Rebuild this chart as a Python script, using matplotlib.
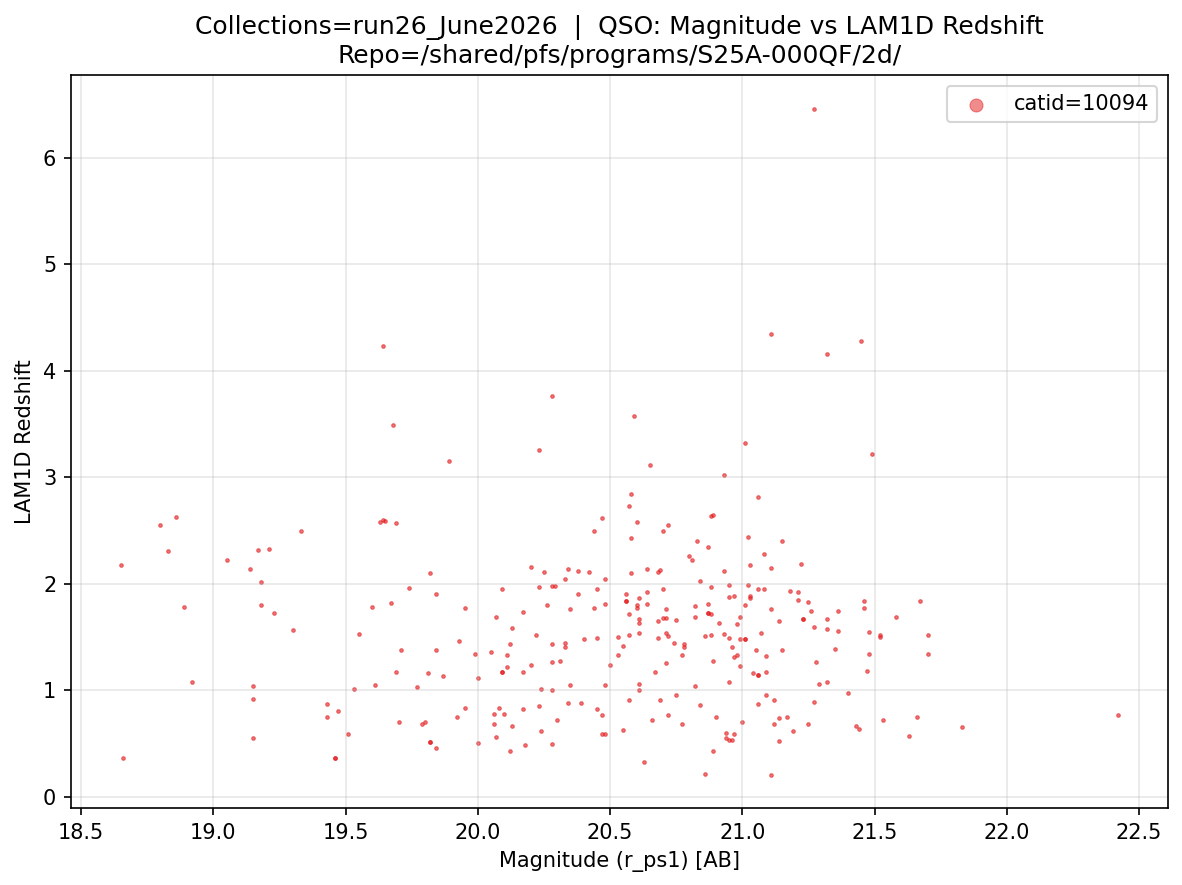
import matplotlib
matplotlib.use('Agg')
import matplotlib.pyplot as plt

# title bits
COLLECTION = 'run26_June2026'
REPO = '/shared/pfs/programs/S25A-000QF/2d/'
CATID = 10094

# magnitude (r_ps1) and LAM1D redshift
mag = [
    18.86, 18.80, 18.83, 18.65, 18.89, 18.92, 18.66, 19.33, 19.17, 19.21,
    19.05, 19.14, 19.18, 19.18, 19.23, 19.30, 19.15, 19.15, 19.15, 19.43,
    19.43,
    19.82, 19.74, 19.84, 19.67, 19.60, 19.95, 19.55, 19.71, 19.84, 19.93,
    19.99, 19.69, 19.81, 19.87, 20.00, 19.61, 19.77, 19.53, 19.47, 19.95,
    19.92, 19.70, 19.79, 19.80, 19.51, 19.82, 19.82, 19.84, 20.00, 19.46,
    19.46,
    20.20, 20.25, 20.34, 20.38, 20.42, 20.33, 20.09, 20.23, 20.28, 20.29,
    20.38, 20.45, 20.26, 20.17, 20.35, 20.44, 20.07, 20.13, 20.22, 20.12,
    20.28, 20.33, 20.33, 20.40, 20.45, 20.05, 20.11, 20.11, 20.20, 20.28,
    20.31, 20.09, 20.09, 20.17, 20.24, 20.28, 20.35, 20.08, 20.06, 20.10,
    20.17, 20.23, 20.34, 20.39, 20.45, 20.06, 20.13, 20.30, 20.24, 20.07,
    20.18, 20.28, 20.12,
    20.58, 20.57, 20.47, 20.44, 20.60, 20.72, 20.70, 20.88, 20.89, 20.58,
    20.83, 20.87, 20.80, 20.81, 20.48, 20.58, 20.64, 20.68, 20.69, 20.84,
    20.88, 20.56, 20.64, 20.70, 20.56, 20.56, 20.61, 20.64, 20.60, 20.60,
    20.48, 20.57, 20.61, 20.61, 20.71, 20.70, 20.71, 20.68, 20.75, 20.82,
    20.82, 20.87, 20.87, 20.87, 20.88, 20.91, 20.53, 20.57, 20.61, 20.55,
    20.53, 20.50, 20.68, 20.71, 20.72, 20.74, 20.78, 20.78, 20.77, 20.86,
    20.88, 20.89, 20.71, 20.67, 20.48, 20.61, 20.61, 20.82, 20.57, 20.69,
    20.75, 20.84, 20.90, 20.47, 20.47, 20.48, 20.55, 20.66, 20.72, 20.77,
    20.89, 20.63, 20.86,
    21.06, 21.02, 21.15, 21.08, 21.03, 21.11, 21.22, 20.93, 20.95, 21.02,
    20.95, 20.97, 21.03, 21.03, 21.06, 21.08, 21.18, 21.21, 21.21, 21.25,
    21.26, 21.36, 21.01, 20.99, 20.98, 21.11, 21.14, 21.23, 21.23, 21.27,
    21.32, 21.32, 21.36, 20.93, 20.95, 20.96, 20.99, 21.01, 21.01, 21.07,
    20.97, 20.98, 20.99, 21.05, 21.09, 21.15, 21.28, 21.35, 21.04, 21.06,
    21.06, 21.09, 20.95, 21.29, 21.32, 21.09, 21.12, 21.06, 21.27, 21.00,
    21.12, 21.14, 21.17, 21.25, 21.19, 20.94, 20.97, 20.94, 20.95, 20.96,
    21.14, 21.11,
    21.46, 21.46, 21.67, 21.58, 21.48, 21.52, 21.52, 21.70, 21.48, 21.70,
    21.47, 21.40, 21.53, 21.43, 21.44, 21.66, 21.63, 21.83, 22.42,
    19.64, 19.68, 19.89, 20.28, 20.23, 19.63, 19.65, 19.64, 19.69,
    21.27, 21.11, 21.45, 21.32, 20.59, 20.65, 20.93, 21.01, 21.49,
]
redshift = [
    2.63, 2.55, 2.31, 2.18, 1.78, 1.08, 0.37, 2.50, 2.32, 2.33,
    2.22, 2.14, 2.02, 1.80, 1.73, 1.57, 1.04, 0.92, 0.55, 0.87,
    0.75,
    2.10, 1.96, 1.91, 1.82, 1.78, 1.77, 1.53, 1.38, 1.38, 1.46,
    1.34, 1.17, 1.16, 1.14, 1.12, 1.05, 1.03, 1.01, 0.81, 0.84,
    0.75, 0.70, 0.69, 0.70, 0.59, 0.52, 0.52, 0.46, 0.51, 0.37,
    0.37,
    2.16, 2.11, 2.14, 2.12, 2.11, 2.05, 1.95, 1.97, 1.98, 1.98,
    1.91, 1.95, 1.80, 1.74, 1.76, 1.77, 1.69, 1.59, 1.52, 1.44,
    1.44, 1.45, 1.41, 1.48, 1.49, 1.36, 1.33, 1.22, 1.24, 1.27,
    1.28, 1.17, 1.17, 1.17, 1.01, 1.00, 1.05, 0.84, 0.78, 0.78,
    0.83, 0.85, 0.88, 0.88, 0.83, 0.69, 0.67, 0.72, 0.62, 0.56,
    0.49, 0.50, 0.43,
    2.84, 2.73, 2.62, 2.50, 2.58, 2.55, 2.50, 2.64, 2.65, 2.43,
    2.40, 2.35, 2.26, 2.22, 2.05, 2.10, 2.14, 2.11, 2.13, 2.03,
    1.97, 1.91, 1.92, 1.95, 1.84, 1.84, 1.87, 1.81, 1.80, 1.77,
    1.81, 1.72, 1.67, 1.63, 1.76, 1.68, 1.68, 1.65, 1.66, 1.79,
    1.69, 1.81, 1.73, 1.73, 1.72, 1.63, 1.50, 1.52, 1.54, 1.42,
    1.33, 1.24, 1.49, 1.54, 1.51, 1.45, 1.44, 1.41, 1.33, 1.51,
    1.52, 1.28, 1.26, 1.17, 1.05, 1.06, 1.00, 1.04, 0.91, 0.91,
    0.96, 0.86, 0.75, 0.77, 0.59, 0.59, 0.63, 0.72, 0.77, 0.69,
    0.43, 0.33, 0.22,
    2.82, 2.44, 2.40, 2.28, 2.18, 2.15, 2.19, 2.12, 1.99, 1.99,
    1.88, 1.89, 1.89, 1.87, 1.95, 1.95, 1.93, 1.92, 1.85, 1.83,
    1.75, 1.75, 1.80, 1.69, 1.62, 1.76, 1.65, 1.67, 1.67, 1.60,
    1.67, 1.58, 1.56, 1.53, 1.49, 1.41, 1.48, 1.48, 1.48, 1.54,
    1.31, 1.33, 1.23, 1.38, 1.32, 1.38, 1.27, 1.39, 1.16, 1.15,
    1.15, 1.17, 1.08, 1.06, 1.08, 0.96, 0.91, 0.87, 0.89, 0.70,
    0.69, 0.74, 0.75, 0.69, 0.62, 0.60, 0.59, 0.55, 0.54, 0.54,
    0.53, 0.21,
    1.84, 1.77, 1.84, 1.69, 1.55, 1.52, 1.50, 1.52, 1.34, 1.34,
    1.18, 0.98, 0.72, 0.67, 0.64, 0.75, 0.57, 0.66, 0.77,
    4.23, 3.49, 3.15, 3.76, 3.26, 2.58, 2.59, 2.60, 2.57,
    6.46, 4.34, 4.28, 4.16, 3.58, 3.12, 3.02, 3.32, 3.22,
]
assert len(mag) == len(redshift)

fig, ax = plt.subplots(figsize=(7.88, 5.9), dpi=150)
ax.scatter(mag, redshift, s=3, color='#e41a1c', alpha=0.6, linewidths=0.5,
           label='catid=%d' % CATID)
ax.set_xlabel('Magnitude (r_ps1) [AB]')
ax.set_ylabel('LAM1D Redshift')
ax.set_title('Collections=%s  |  QSO: Magnitude vs LAM1D Redshift\nRepo=%s' % (COLLECTION, REPO))
ax.grid(True, alpha=0.3)
leg = ax.legend(loc='upper right', markerscale=3.6)
for h in leg.legend_handles:
    h.set_alpha(0.5)
fig.subplots_adjust(left=0.060, right=0.988, top=0.915, bottom=0.087)
fig.savefig('out.png', dpi=150)
